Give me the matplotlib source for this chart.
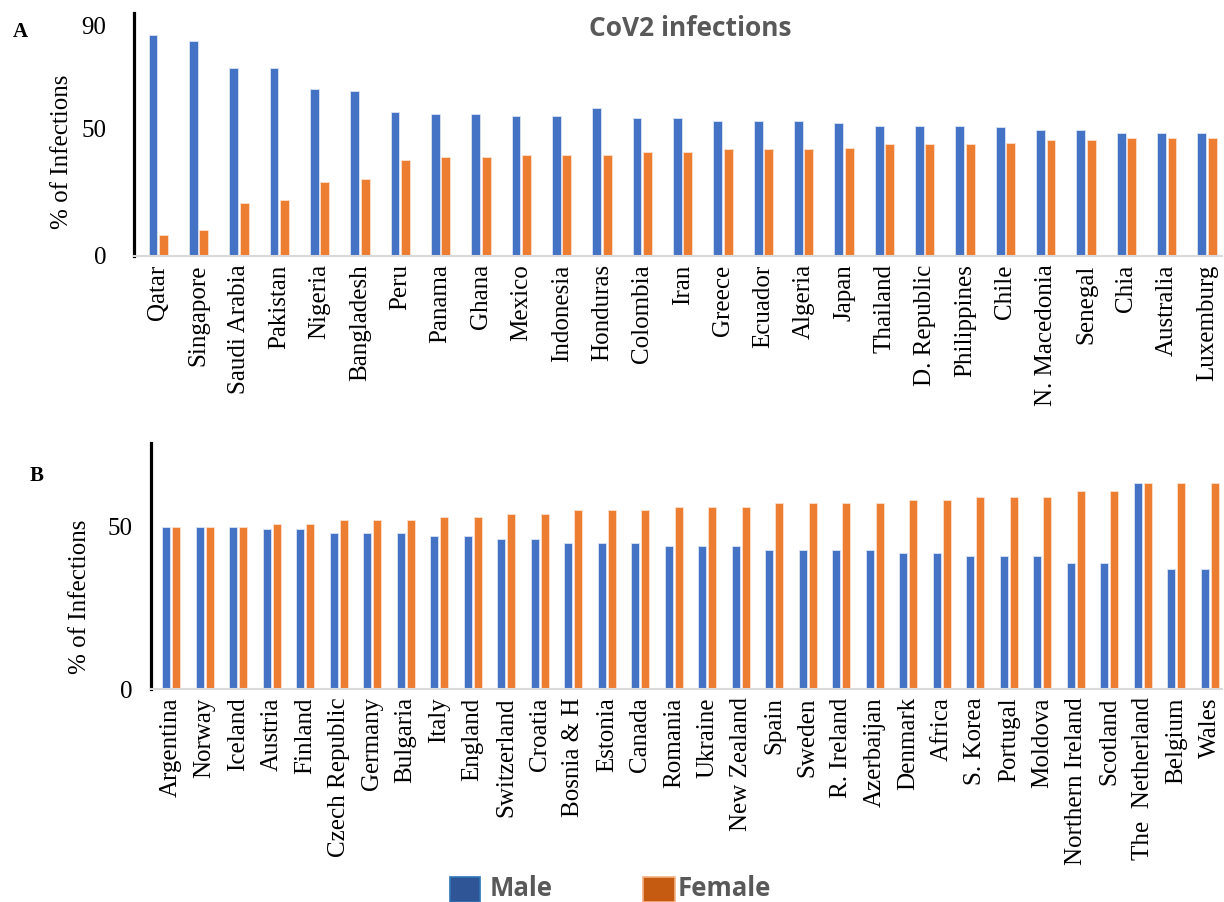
import numpy as np
import matplotlib
matplotlib.use("Agg")
import matplotlib.pyplot as plt
from matplotlib.patches import Rectangle

# ---------- data ----------
countries_a = ["Qatar", "Singapore", "Saudi Arabia", "Pakistan", "Nigeria", "Bangladesh",
               "Peru", "Panama", "Ghana", "Mexico", "Indonesia", "Honduras", "Colombia",
               "Iran", "Greece", "Ecuador", "Algeria", "Japan", "Thailand", "D. Republic",
               "Philippines", "Chile", "N. Macedonia", "Senegal", "Chia", "Australia",
               "Luxemburg"]
male_a = [86.3, 83.9, 73.6, 73.6, 65.1, 64.5, 56.4, 55.7, 55.7, 54.7, 54.7, 57.7, 54.0,
          54.0, 52.7, 52.7, 52.7, 52.1, 50.9, 50.9, 50.9, 50.3, 49.1, 49.1, 47.9, 47.9, 47.9]
female_a = [8.2, 10.2, 20.6, 21.8, 29.0, 30.2, 37.5, 38.8, 38.8, 39.5, 39.5, 39.5, 40.5,
            40.5, 41.8, 41.8, 41.8, 42.4, 43.6, 43.6, 43.6, 44.3, 45.4, 45.4, 46.1, 46.1, 46.1]

countries_b = ["Argentina", "Norway", "Iceland", "Austria", "Finland", "Czech Republic",
               "Germany", "Bulgaria", "Italy", "England", "Switzerland", "Croatia",
               "Bosnia & H", "Estonia", "Canada", "Romania", "Ukraine", "New Zealand",
               "Spain", "Sweden", "R. Ireland", "Azerbaijan", "Denmark", "Africa",
               "S. Korea", "Portugal", "Moldova", "Northern Ireland", "Scotland",
               "The  Netherland", "Belgium", "Wales"]
male_b = [50.0, 50.0, 50.0, 49.1, 49.1, 48.1, 48.1, 48.1, 47.0, 47.0, 46.1, 46.1, 44.9,
          44.9, 44.9, 43.9, 43.9, 43.9, 42.9, 42.9, 42.9, 42.9, 41.9, 41.9, 41.0, 41.0,
          41.0, 38.9, 38.9, 63.3, 36.8, 36.8]
female_b = [50.0, 50.0, 50.0, 50.9, 50.9, 51.9, 51.9, 51.9, 52.9, 52.9, 53.9, 53.9, 55.1,
            55.1, 55.1, 56.1, 56.1, 56.1, 57.2, 57.2, 57.2, 57.2, 58.1, 58.1, 59.0, 59.0,
            59.0, 61.0, 61.0, 63.3, 63.3, 63.3]

BLUE = "#4472C4"
ORANGE = "#ED7D31"
SERIF = ["Liberation Serif", "DejaVu Serif"]
SANS = ["Open Sans", "DejaVu Sans"]

W, H = 1224, 902
fig = plt.figure(figsize=(W / 100, H / 100), dpi=100)


def px_axes(left, top, right, bottom):
    return fig.add_axes([left / W, 1 - bottom / H, (right - left) / W, (bottom - top) / H])


def draw_panel(ax, names, male, female, width, off, ylim, yticks, ylabels, ypad):
    x = np.arange(len(names))
    ax.bar(x - off, male, width, color=BLUE, edgecolor="#dbe4f5", linewidth=0.6)
    ax.bar(x + off, female, width, color=ORANGE, edgecolor="#fbe0cf", linewidth=0.6)
    ax.set_ylim(*ylim)
    ax.set_yticks(yticks)
    ax.set_yticklabels(ylabels, fontsize=18, family=SERIF)
    ax.set_xticks(x)
    ax.set_xticklabels(names, rotation=90, fontsize=18, family=SERIF, va="top")
    ax.tick_params(axis="y", length=0, pad=ypad)
    ax.tick_params(axis="x", length=0, pad=6)
    for s in ("top", "right"):
        ax.spines[s].set_visible(False)
    ax.spines["left"].set_color("black")
    ax.spines["left"].set_linewidth(2.3)
    ax.spines["bottom"].set_color("#d9d9d9")
    ax.spines["bottom"].set_linewidth(1.5)


# panel A
ax_a = px_axes(134, 13, 1222, 256)
draw_panel(ax_a, countries_a, male_a, female_a, 0.22, 0.13, (0, 95),
           [0, 50, 90], ["0", "50", "90"], 20)
ax_a.set_xlim(-0.6, len(countries_a) - 1 + 0.37)

# panel B
ax_b = px_axes(151, 443, 1222, 689)
draw_panel(ax_b, countries_b, male_b, female_b, 0.24, 0.15, (0, 75.7),
           [0, 50], ["0", "50"], 13)
ax_b.set_xlim(-0.6, len(countries_b) - 1 + 0.36)

# axis titles and panel letters
fig.text(62 / W, 1 - 152 / H, "% of Infections", rotation=90, fontsize=18,
         family=SERIF, ha="center", va="center")
fig.text(80 / W, 1 - 597 / H, "% of Infections", rotation=90, fontsize=18,
         family=SERIF, ha="center", va="center")
fig.text(20 / W, 1 - 32 / H, "A", fontsize=15, fontweight="bold", family=SERIF,
         ha="center", va="center")
fig.text(37 / W, 1 - 476 / H, "B", fontsize=15, fontweight="bold", family=SERIF,
         ha="center", va="center")

fig.text(690 / W, 1 - 28 / H, "CoV2 infections", fontsize=19, fontweight="bold",
         family=SANS, color="#595959", ha="center", va="center")

# legend
for x0, x1, face, edge, label, tx in [(450, 480, "#2F5597", "#2E75B6", "Male", 490),
                                      (643, 675, "#C55A11", "#F4B183", "Female", 678)]:
    fig.add_artist(Rectangle((x0 / W, 1 - 902 / H), (x1 - x0) / W, 25 / H,
                             transform=fig.transFigure, facecolor=face,
                             edgecolor=edge, linewidth=1.2))
    fig.text(tx / W, 1 - 889 / H, label, fontsize=18.5, fontweight="bold",
             family=SANS, color="#595959", ha="left", va="center")

fig.savefig("out.png", dpi=100)
